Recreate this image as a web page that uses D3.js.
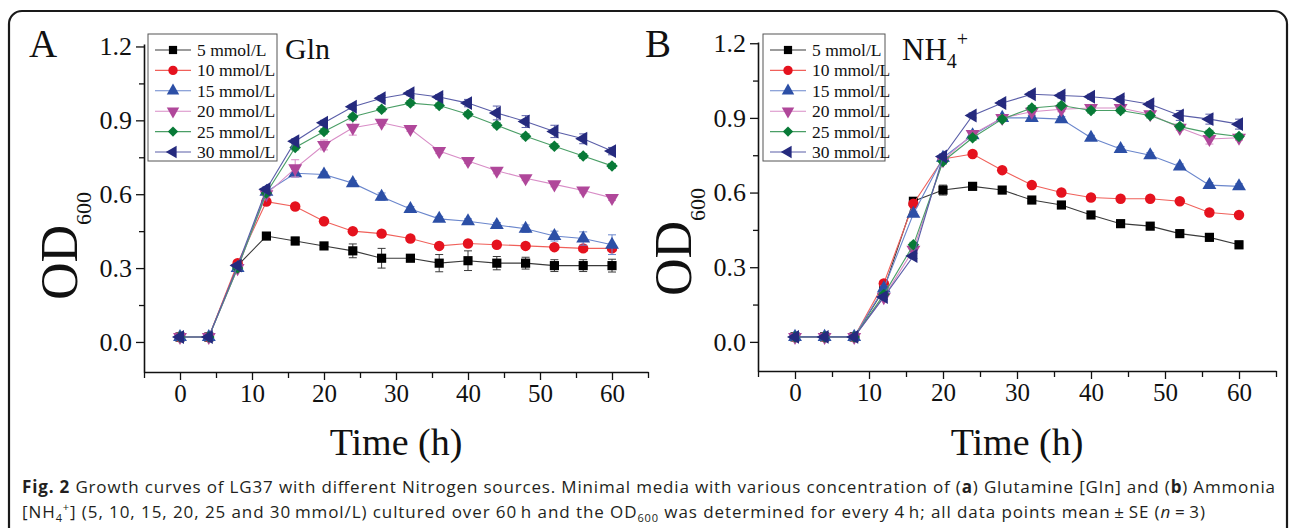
<!DOCTYPE html>
<html>
<head>
<meta charset="utf-8">
<script src="https://cdn.jsdelivr.net/npm/d3@7"></script>
<style>
  body { margin: 0; background: #fff; }
  svg { display: block; }
</style>
</head>
<body>
<svg width="1290" height="528"></svg>
<script>
// sampling times (h)
const times = [0, 4, 8, 12, 16, 20, 24, 28, 32, 36, 40, 44, 48, 52, 56, 60];
const seriesNames = ["5 mmol/L", "10 mmol/L", "15 mmol/L", "20 mmol/L", "25 mmol/L", "30 mmol/L"];
const yTicks = [0, 0.3, 0.6, 0.9, 1.2];
const yMinor = [0.15, 0.45, 0.75, 1.05];
const xTicks = [0, 10, 20, 30, 40, 50, 60];
const xMinor = [-5, 5, 15, 25, 35, 45, 55, 65];

// panel A : Gln
const gln5 = [0.02, 0.02, 0.31, 0.43, 0.41, 0.39, 0.37, 0.34, 0.34, 0.32, 0.33, 0.32, 0.32, 0.31, 0.31, 0.31];
const gln10 = [0.02, 0.02, 0.32, 0.57, 0.55, 0.49, 0.45, 0.44, 0.42, 0.39, 0.40, 0.395, 0.39, 0.385, 0.38, 0.38];
const gln15 = [0.02, 0.02, 0.30, 0.61, 0.685, 0.68, 0.645, 0.59, 0.54, 0.50, 0.49, 0.475, 0.46, 0.43, 0.42, 0.395];
const gln20 = [0.02, 0.02, 0.30, 0.60, 0.705, 0.80, 0.87, 0.89, 0.865, 0.775, 0.735, 0.695, 0.665, 0.64, 0.615, 0.585];
const gln25 = [0.02, 0.02, 0.30, 0.605, 0.79, 0.855, 0.915, 0.945, 0.97, 0.96, 0.925, 0.88, 0.835, 0.795, 0.755, 0.715];
const gln30 = [0.02, 0.02, 0.31, 0.62, 0.815, 0.89, 0.955, 0.99, 1.01, 0.995, 0.97, 0.93, 0.895, 0.855, 0.825, 0.775];
// standard errors A
const gln5Err = [0, 0, 0.01, 0.01, 0.015, 0.01, 0.028, 0.04, 0.01, 0.035, 0.04, 0.027, 0.024, 0.024, 0.024, 0.026];
const gln10Err = [0, 0, 0.01, 0.01, 0.01, 0.01, 0.01, 0.01, 0.01, 0.01, 0.01, 0.01, 0.01, 0.01, 0.01, 0.01];
const gln15Err = [0, 0, 0.01, 0.01, 0.015, 0.01, 0.01, 0.015, 0.01, 0.01, 0.01, 0.01, 0.015, 0.02, 0.027, 0.04];
const gln20Err = [0, 0, 0.01, 0.01, 0.035, 0.02, 0.03, 0.01, 0.01, 0.01, 0.01, 0.012, 0.01, 0.01, 0.01, 0.01];
const gln25Err = [0, 0, 0.01, 0.01, 0.01, 0.01, 0.01, 0.01, 0.01, 0.01, 0.01, 0.01, 0.01, 0.01, 0.01, 0.01];
const gln30Err = [0, 0, 0.01, 0.01, 0.01, 0.01, 0.01, 0.01, 0.01, 0.01, 0.015, 0.028, 0.024, 0.025, 0.02, 0.015];

// panel B : NH4+
const nh5 = [0.02, 0.02, 0.02, 0.21, 0.565, 0.61, 0.625, 0.61, 0.57, 0.55, 0.51, 0.475, 0.465, 0.435, 0.42, 0.39];
const nh10 = [0.02, 0.02, 0.02, 0.235, 0.555, 0.735, 0.755, 0.69, 0.63, 0.60, 0.58, 0.575, 0.575, 0.565, 0.52, 0.51];
const nh15 = [0.02, 0.02, 0.02, 0.215, 0.515, 0.74, 0.83, 0.90, 0.90, 0.895, 0.82, 0.775, 0.75, 0.705, 0.63, 0.625];
const nh20 = [0.02, 0.02, 0.02, 0.18, 0.37, 0.73, 0.835, 0.90, 0.925, 0.935, 0.94, 0.94, 0.915, 0.86, 0.815, 0.82];
const nh25 = [0.02, 0.02, 0.02, 0.19, 0.39, 0.725, 0.82, 0.895, 0.94, 0.95, 0.93, 0.93, 0.91, 0.865, 0.84, 0.825];
const nh30 = [0.02, 0.02, 0.02, 0.18, 0.345, 0.745, 0.91, 0.96, 0.995, 0.99, 0.985, 0.975, 0.955, 0.91, 0.895, 0.875];
// standard errors B
const nh5Err = [0, 0, 0, 0.01, 0.015, 0.02, 0.006, 0.006, 0.006, 0.006, 0.006, 0.006, 0.006, 0.006, 0.006, 0.015];
const nh10Err = [0, 0, 0, 0.01, 0.01, 0.01, 0.006, 0.006, 0.006, 0.006, 0.006, 0.006, 0.006, 0.006, 0.006, 0.006];
const nh15Err = [0, 0, 0, 0.01, 0.01, 0.01, 0.01, 0.01, 0.01, 0.01, 0.01, 0.01, 0.01, 0.01, 0.01, 0.01];
const nh20Err = [0, 0, 0, 0.01, 0.01, 0.01, 0.01, 0.01, 0.01, 0.01, 0.01, 0.01, 0.01, 0.01, 0.02, 0.01];
const nh25Err = [0, 0, 0, 0.01, 0.01, 0.01, 0.01, 0.01, 0.01, 0.01, 0.01, 0.01, 0.01, 0.01, 0.01, 0.01];
const nh30Err = [0, 0, 0, 0.01, 0.01, 0.01, 0.01, 0.01, 0.01, 0.01, 0.01, 0.01, 0.01, 0.02, 0.02, 0.02];

// look of each series (marker fill, line colour)
const markFill = ["#000000", "#e5121e", "#2c4fa6", "#b0479a", "#087a37", "#252a7e"];
const lineCol = ["#3a3a3a", "#f0605a", "#6a86cc", "#d88cc6", "#4a9e66", "#5a5ea8"];
const markType = [
  { s: d3.symbolSquare, size: 84, rot: 0 },
  { s: d3.symbolCircle, size: 86, rot: 0 },
  { s: d3.symbolTriangle, size: 84, rot: 0 },
  { s: d3.symbolTriangle, size: 84, rot: 180 },
  { s: d3.symbolSquare, size: 66, rot: 45 },
  { s: d3.symbolTriangle, size: 84, rot: -90 }
];
const serif = "'Liberation Serif', 'Times New Roman', serif";

const svg = d3.select("svg");

// outer rounded frame
svg.append("rect")
  .attr("x", 9).attr("y", 11)
  .attr("width", 1278).attr("height", 560)
  .attr("rx", 13)
  .attr("fill", "none")
  .attr("stroke", "#1a1a1a")
  .attr("stroke-width", 2.2);

function drawPanel(p) {
  const x = d3.scaleLinear().domain([-5, 65]).range(p.xr);
  const y = d3.scaleLinear().domain(p.yd).range(p.yr);
  const g = svg.append("g");

  // axes
  const yAx = g.append("g")
    .attr("transform", `translate(${p.xr[0]},0)`)
    .call(d3.axisLeft(y).tickValues(yTicks).tickFormat(d3.format(".1f")).tickSize(8).tickSizeOuter(0).tickPadding(4))
    .attr("font-family", serif)
    .attr("font-size", 26);
  g.append("g")
    .attr("transform", `translate(${p.xr[0]},0)`)
    .call(d3.axisLeft(y).tickValues(yMinor).tickFormat("").tickSize(5).tickSizeOuter(0))
    .select(".domain").remove();
  const xAx = g.append("g")
    .attr("transform", `translate(0,${p.yr[0]})`)
    .call(d3.axisBottom(x).tickValues(xTicks).tickSize(8).tickSizeOuter(0).tickPadding(4))
    .attr("font-family", serif)
    .attr("font-size", 25);
  g.append("g")
    .attr("transform", `translate(0,${p.yr[0]})`)
    .call(d3.axisBottom(x).tickValues(xMinor).tickFormat("").tickSize(6).tickSizeOuter(0))
    .select(".domain").remove();
  g.selectAll(".domain").attr("stroke", "#111").attr("stroke-width", 1.6);
  g.selectAll(".tick line").attr("stroke", "#111").attr("stroke-width", 1.3);
  yAx.selectAll("text").attr("fill", "#111");
  xAx.selectAll("text").attr("fill", "#111");

  // series
  const line = d3.line().x((d) => x(d.t)).y((d) => y(d.v));
  p.series.forEach((vals, k) => {
    const pts = times.map((t, i) => ({ t: t, v: vals[i], e: p.errs[k][i] }));
    const sg = g.append("g");
    sg.append("path")
      .attr("d", line(pts))
      .attr("fill", "none")
      .attr("stroke", lineCol[k])
      .attr("stroke-width", 1.1);
    const eb = sg.selectAll(".eb").data(pts.filter((d) => d.e > 0)).enter().append("g");
    eb.append("line")
      .attr("x1", (d) => x(d.t)).attr("x2", (d) => x(d.t))
      .attr("y1", (d) => y(d.v - d.e)).attr("y2", (d) => y(d.v + d.e))
      .attr("stroke", lineCol[k]).attr("stroke-width", 1);
    eb.selectAll(".cap").data((d) => [d.v - d.e, d.v + d.e].map((v) => ({ t: d.t, v: v })))
      .enter().append("line")
      .attr("x1", (d) => x(d.t) - 4).attr("x2", (d) => x(d.t) + 4)
      .attr("y1", (d) => y(d.v)).attr("y2", (d) => y(d.v))
      .attr("stroke", lineCol[k]).attr("stroke-width", 1);
    const m = markType[k];
    sg.selectAll(".mk").data(pts).enter().append("path")
      .attr("d", d3.symbol().type(m.s).size(m.size))
      .attr("transform", (d) => `translate(${x(d.t)},${y(d.v)}) rotate(${m.rot})`)
      .attr("fill", markFill[k]);
  });

  // legend
  const lg = g.append("g").style("font-family", serif);
  lg.append("rect")
    .attr("x", p.leg[0]).attr("y", 34)
    .attr("width", p.leg[1]).attr("height", 127)
    .attr("fill", "#fff").attr("stroke", "#555").attr("stroke-width", 1);
  seriesNames.forEach((name, k) => {
    const ly = 50 + k * 20.4;
    const lx = p.leg[0] + 7;
    lg.append("line")
      .attr("x1", lx).attr("x2", lx + 36).attr("y1", ly).attr("y2", ly)
      .attr("stroke", lineCol[k]).attr("stroke-width", 1.1);
    const m = markType[k];
    lg.append("path")
      .attr("d", d3.symbol().type(m.s).size(m.size * 0.8))
      .attr("transform", `translate(${lx + 18},${ly}) rotate(${m.rot})`)
      .attr("fill", markFill[k]);
    lg.append("text")
      .attr("x", lx + 42).attr("y", ly + 6)
      .attr("font-size", 17.5).attr("fill", "#111")
      .text(name);
  });

  const tg = g.append("g").style("font-family", serif).attr("fill", "#111");
  // panel letter
  tg.append("text").attr("x", p.letterX).attr("y", 57)
    .attr("font-size", 39).text(p.letter);

  // y title OD600
  const yt = tg.append("text")
    .attr("transform", `translate(${p.xr[0] - 67},${p.odY}) rotate(-90)`)
    .attr("text-anchor", "middle");
  yt.append("tspan").attr("font-size", 52).text("OD");
  yt.append("tspan").attr("font-size", 22).attr("dy", 14).text("600");

  // x title
  tg.append("text")
    .attr("x", (x(-5) + x(65)) / 2).attr("y", 455)
    .attr("text-anchor", "middle").attr("font-size", 38)
    .text("Time (h)");
  return tg;
}

const gA = drawPanel({
  xr: [144, 648], yd: [-0.122, 1.21], yr: [372, 44],
  series: [gln5, gln10, gln15, gln20, gln25, gln30],
  errs: [gln5Err, gln10Err, gln15Err, gln20Err, gln25Err, gln30Err],
  leg: [148, 129], letter: "A", letterX: 29, odY: 246
});
gA.append("text").attr("x", 285).attr("y", 59)
  .attr("font-size", 30).text("Gln");

const gB = drawPanel({
  xr: [758, 1276], yd: [-0.117, 1.205], yr: [371, 42],
  series: [nh5, nh10, nh15, nh20, nh25, nh30],
  errs: [nh5Err, nh10Err, nh15Err, nh20Err, nh25Err, nh30Err],
  leg: [763, 122], letter: "B", letterX: 645, odY: 242
});
const nhT = gB.append("text").attr("x", 902).attr("y", 60)
  .attr("font-size", 31);
nhT.append("tspan").text("NH");
nhT.append("tspan").attr("font-size", 20).attr("dy", 8).text("4");
nhT.append("tspan").attr("font-size", 20).attr("dy", -22).text("+");

// caption
const cap = svg.append("g")
  .attr("font-family", "'Open Sans', 'Noto Sans', sans-serif")
  .attr("fill", "#231f20").attr("font-size", 17);
const c1 = cap.append("text").attr("x", 22).attr("y", 493)
  .attr("textLength", 1253).attr("lengthAdjust", "spacing");
c1.append("tspan").attr("font-weight", "bold").text("Fig. 2");
c1.append("tspan").text(" Growth curves of LG37 with different Nitrogen sources. Minimal media with various concentration of (");
c1.append("tspan").attr("font-weight", "bold").text("a");
c1.append("tspan").text(") Glutamine [Gln] and (");
c1.append("tspan").attr("font-weight", "bold").text("b");
c1.append("tspan").text(") Ammonia");

const c2 = cap.append("text").attr("x", 22).attr("y", 518)
  .attr("textLength", 1183).attr("lengthAdjust", "spacing");
c2.append("tspan").text("[NH");
c2.append("tspan").attr("font-size", 11).attr("dy", 4).text("4");
c2.append("tspan").attr("font-size", 11).attr("dy", -11).text("+");
c2.append("tspan").attr("dy", 7).text("] (5, 10, 15, 20, 25 and 30\u2009mmol/L) cultured over 60\u2009h and the OD");
c2.append("tspan").attr("font-size", 11).attr("dy", 4).text("600");
c2.append("tspan").attr("dy", -4).text(" was determined for every 4\u2009h; all data points mean\u2009\u00b1\u2009SE (");
c2.append("tspan").attr("font-style", "italic").text("n");
c2.append("tspan").text("\u2009=\u20093)");
</script>
</body>
</html>
